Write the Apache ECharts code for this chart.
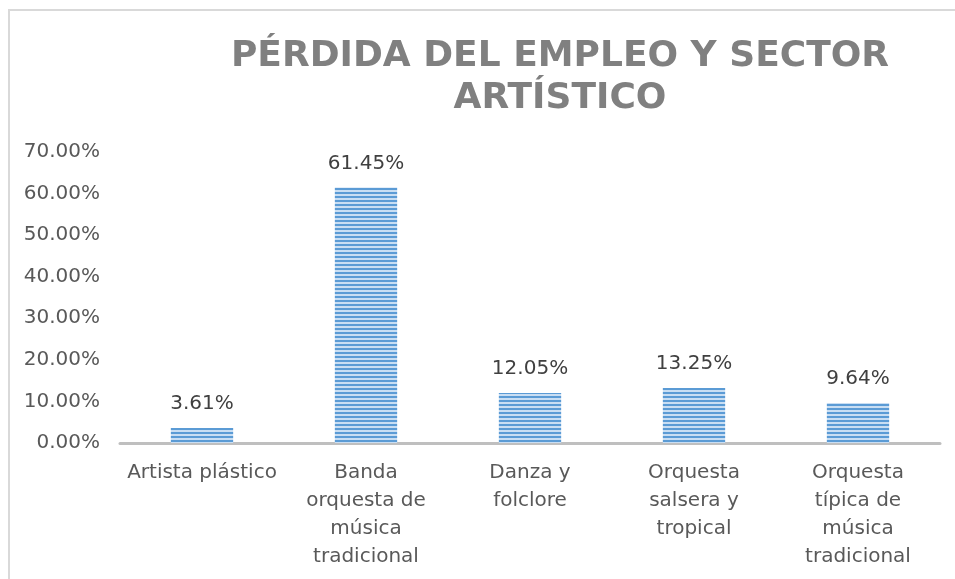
<!DOCTYPE html>
<html>
<head>
<meta charset="utf-8">
<script src="https://cdn.jsdelivr.net/npm/echarts@6/dist/echarts.min.js"></script>
<style>
  html, body { margin: 0; padding: 0; background: #fff; }
  #main { width: 955px; height: 579px; }
</style>
</head>
<body>
<div id="main"></div>
<script>
// datos del grafico
var categories = ['Artista plástico', 'Banda\norquesta de\nmúsica\ntradicional', 'Danza y\nfolclore', 'Orquesta\nsalsera y\ntropical', 'Orquesta\ntípica de\nmúsica\ntradicional'];
var values = [3.61, 61.45, 12.05, 13.25, 9.64];
var titleText = 'PÉRDIDA DEL EMPLEO Y SECTOR\nARTÍSTICO';

// patron de rayas horizontales para las barras
function stripes() {
  var c = document.createElement('canvas');
  c.width = 4; c.height = 4;
  var ctx = c.getContext('2d');
  ctx.fillStyle = '#c9def3';
  ctx.fillRect(0, 0, 4, 4);
  ctx.fillStyle = '#5b9bd5';
  ctx.fillRect(0, 0, 4, 2);
  return c;
}

var chart = echarts.init(document.getElementById('main'));
chart.setOption({
  animation: false,
  title: {
    text: titleText,
    left: 555,
    top: 31,
    textAlign: 'center',
    textStyle: {
      fontFamily: 'DejaVu Sans',
      fontWeight: 'bold',
      fontSize: 36,
      lineHeight: 42,
      color: '#808080'
    }
  },
  graphic: [{
    type: 'rect',
    shape: { x: 9, y: 10, width: 980, height: 600 },
    style: { fill: 'none', stroke: '#d9d9d9', lineWidth: 2 },
    silent: true
  }],
  grid: { left: 120, right: 15, top: 152, bottom: 136 },
  xAxis: {
    type: 'category',
    data: categories,
    axisLine: { lineStyle: { color: '#bfbfbf', width: 3 } },
    axisTick: { show: false },
    axisLabel: {
      interval: 0,
      margin: 16,
      fontFamily: 'DejaVu Sans',
      fontSize: 20,
      lineHeight: 28,
      color: '#595959'
    }
  },
  yAxis: {
    type: 'value',
    min: 0,
    max: 70,
    interval: 10,
    splitLine: { show: false },
    axisLine: { show: false },
    axisTick: { show: false },
    axisLabel: {
      margin: 20,
      fontFamily: 'DejaVu Sans',
      fontSize: 20,
      color: '#595959',
      formatter: function (v) { return v.toFixed(2) + '%'; }
    }
  },
  series: [{
    type: 'bar',
    data: values,
    barWidth: '38%',
    itemStyle: { color: { image: stripes(), repeat: 'repeat' } },
    label: {
      show: true,
      position: 'top',
      distance: 14,
      fontFamily: 'DejaVu Sans',
      fontSize: 20,
      color: '#404040',
      formatter: function (p) { return p.value.toFixed(2) + '%'; }
    }
  }]
});
</script>
</body>
</html>
